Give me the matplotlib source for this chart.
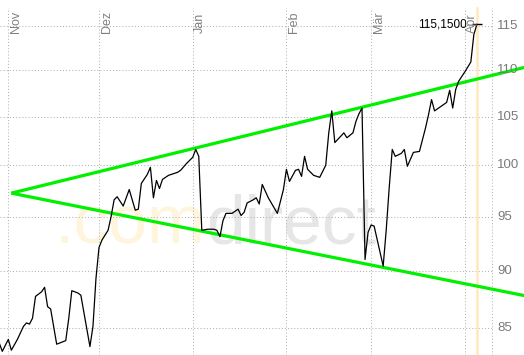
import matplotlib
matplotlib.use('Agg')
import matplotlib.pyplot as plt
import matplotlib.dates as mdates
import matplotlib.transforms as mtransforms
import pandas as pd

plt.rcParams['font.family'] = ['Liberation Sans', 'DejaVu Sans']

dates = [
    '2012-10-29', '2012-10-30', '2012-11-01', '2012-11-02', '2012-11-04', '2012-11-06',
    '2012-11-07', '2012-11-08', '2012-11-09', '2012-11-10', '2012-11-12', '2012-11-13',
    '2012-11-14', '2012-11-15', '2012-11-17', '2012-11-19', '2012-11-20', '2012-11-21',
    '2012-11-22', '2012-11-24', '2012-11-25', '2012-11-28', '2012-11-29', '2012-11-30',
    '2012-12-01', '2012-12-02', '2012-12-04', '2012-12-05', '2012-12-06', '2012-12-07',
    '2012-12-09', '2012-12-11', '2012-12-13', '2012-12-14', '2012-12-15', '2012-12-17',
    '2012-12-18', '2012-12-19', '2012-12-20', '2012-12-21', '2012-12-22', '2012-12-24',
    '2012-12-27', '2012-12-28', '2012-12-30', '2013-01-01', '2013-01-02', '2013-01-03',
    '2013-01-04', '2013-01-06', '2013-01-08', '2013-01-09', '2013-01-10', '2013-01-11',
    '2013-01-12', '2013-01-14', '2013-01-16', '2013-01-17', '2013-01-18', '2013-01-19',
    '2013-01-21', '2013-01-22', '2013-01-23', '2013-01-24', '2013-01-26', '2013-01-29',
    '2013-01-31', '2013-02-01', '2013-02-02', '2013-02-04', '2013-02-05', '2013-02-06',
    '2013-02-07', '2013-02-08', '2013-02-10', '2013-02-12', '2013-02-14', '2013-02-15',
    '2013-02-16', '2013-02-17', '2013-02-20', '2013-02-21', '2013-02-23', '2013-02-24',
    '2013-02-25', '2013-02-26', '2013-02-27', '2013-02-28', '2013-03-01', '2013-03-02',
    '2013-03-05', '2013-03-06', '2013-03-07', '2013-03-08', '2013-03-09', '2013-03-11',
    '2013-03-12', '2013-03-13', '2013-03-15', '2013-03-17', '2013-03-18', '2013-03-19',
    '2013-03-20', '2013-03-21', '2013-03-22', '2013-03-26', '2013-03-27', '2013-03-28',
    '2013-03-29', '2013-03-30', '2013-04-01', '2013-04-03', '2013-04-04', '2013-04-05',
]
prices = [
    83.7, 83.0, 84.0, 83.1, 84.0, 85.1,
    85.4, 85.3, 85.8, 87.7, 88.1, 88.5,
    86.8, 86.6, 83.6, 83.8, 83.9, 85.8,
    88.2, 88.0, 87.8, 83.4, 85.1, 89.3,
    92.1, 92.8, 93.7, 95.0, 96.6, 96.9,
    96.0, 97.6, 95.6, 95.7, 98.2, 99.1,
    99.8, 96.8, 98.5, 97.7, 98.6, 99.0,
    99.3, 99.5, 100.2, 100.8, 101.6, 100.9,
    93.7, 93.8, 93.8, 93.7, 93.1, 94.6,
    95.3, 95.3, 95.7, 95.1, 95.4, 96.3,
    96.6, 96.8, 96.2, 98.1, 96.8, 95.3,
    97.6, 99.6, 98.4, 99.5, 99.6, 98.9,
    100.9, 99.6, 99.0, 98.8, 100.0, 103.3,
    105.6, 102.3, 103.3, 102.8, 103.3, 104.5,
    105.3, 105.9, 91.0, 93.5, 94.2, 94.1,
    90.4, 93.7, 97.8, 101.6, 100.9, 101.2,
    101.6, 99.9, 101.3, 101.4, 102.6, 103.8,
    105.2, 106.8, 105.6, 106.5, 107.8, 105.9,
    107.9, 108.8, 109.8, 110.9, 114.0, 115.15,
]
last_label = '115,1500'

month_starts = ['2012-11-01', '2012-12-01', '2013-01-01', '2013-02-01', '2013-03-01', '2013-04-01']
month_labels = ['Nov', 'Dez', 'Jan', 'Feb', 'Mär', 'Apr']
y_ticks = [85, 90, 95, 100, 105, 110, 115]

trend_dates = ['2012-11-02', '2013-04-22']
trend_upper = [97.25, 110.4]
trend_lower = [97.25, 87.7]

x_range = ['2012-10-29 06:00', '2013-04-20 14:00']
y_range = [82.7, 118.0]
chart_end = '2013-04-10'

dt = pd.to_datetime(dates)
tdt = pd.to_datetime(trend_dates)
mdt = pd.to_datetime(month_starts)

W, H = 524, 355
fig = plt.figure(figsize=(W / 100, H / 100), dpi=100)
ax = fig.add_axes([0, 0, 1, 1])
ax.set_yscale('log')
ax.set_xlim(pd.to_datetime(x_range[0]), pd.to_datetime(x_range[1]))
ax.set_ylim(*y_range)
ax.axis('off')

grid_kw = dict(color='#b4b4b4', lw=0.75, linestyle=(0, (1, 2)), zorder=1)
top_frac = 1 - 8 / H

# horizontal grid lines (up to the chart end)
for v in y_ticks:
    ax.plot([pd.to_datetime(x_range[0]), pd.to_datetime(chart_end)], [v, v], **grid_kw)

# vertical grid lines
for m in mdt:
    ax.axvline(m, ymin=0, ymax=top_frac, **grid_kw)
ax.axvline(pd.to_datetime(chart_end), ymin=0, ymax=top_frac, **grid_kw)

# current-day marker
ax.axvline(dt[-1], ymin=0, ymax=top_frac, color='#ffe9bd', lw=1.8, zorder=1)

# watermark
wm_y = 1 - 243 / H
t1 = ax.text(55 / W, wm_y, '.com', transform=ax.transAxes, fontsize=50,
             color='#fff5dc', ha='left', va='baseline', zorder=0)
ax.annotate('direct', xy=(1, 0), xycoords=t1, fontsize=50, color='#e6e6e6',
            ha='left', va='bottom', zorder=0)

# trend lines
ax.plot(tdt, trend_upper, color='#00f000', lw=2.3, zorder=3, solid_capstyle='butt')
ax.plot(tdt, trend_lower, color='#00f000', lw=2.3, zorder=3, solid_capstyle='butt')

# price line
ax.plot(dt, prices, color='black', lw=0.9, zorder=4)
ax.plot([dt[-1]], [prices[-1]], marker='_', ms=7, mew=1.0, color='black', zorder=5)
ax.annotate(last_label, xy=(dt[-1], prices[-1]), xytext=(-7.5, 0),
            textcoords='offset points', ha='right', va='center',
            fontsize=8.5, color='black', zorder=5)

# month labels
blend = mtransforms.blended_transform_factory(ax.transData, ax.transAxes)
off = mtransforms.offset_copy(blend, fig=fig, x=1.5, y=0, units='dots')
for m, lab in zip(mdt, month_labels):
    ax.text(m, 1 - 33 / H, lab, transform=off, rotation=90, ha='left', va='bottom',
            fontsize=9, color='#808080', zorder=5)

# right-side value labels
blend_y = mtransforms.blended_transform_factory(ax.transAxes, ax.transData)
for v in y_ticks:
    ax.text(497 / W, v, str(v), transform=blend_y, ha='left', va='center',
            fontsize=9.5, color='#7a7a7a', zorder=5)

fig.savefig('out.png', dpi=100)
